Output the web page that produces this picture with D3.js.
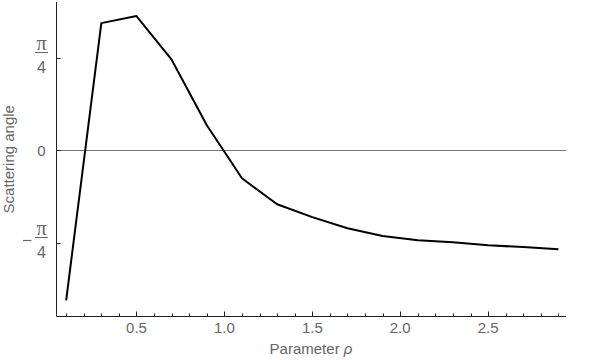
<!DOCTYPE html>
<head>
<meta charset='utf-8'>
<style>
  body { margin: 0; background: #fff; font-family: 'Liberation Sans', Arial, sans-serif; }
  .tick-label { fill: #666; font-size: 15px; }
  .axis-title { fill: #666; font-size: 15px; }
</style>
</head>
<body>
<div id='vis'></div>
<script src='https://d3js.org/d3.v7.min.js'></script>
<script>
  // rho values and scattering angles (radians)
  const rho = [0.1, 0.3, 0.5, 0.7, 0.9, 1.1, 1.3, 1.5, 1.7, 1.9, 2.1, 2.3, 2.5, 2.7, 2.9]
  const angle = [-1.273, 1.078, 1.138, 0.768, 0.212, -0.238, -0.458, -0.567, -0.662, -0.727, -0.764, -0.781, -0.806, -0.821, -0.840]

  const xTicks = [0.5, 1.0, 1.5, 2.0, 2.5]
  const yTicks = [Math.PI / 4, 0, -Math.PI / 4]
  const yTickLabels = ['π/4', '0', '-π/4']

  const width = 600, height = 360
  const mLeft = 56.5, mRight = 566, mTop = 2, mBottom = 316.5

  const x = d3.scaleLinear().domain([0.045, 2.943]).range([mLeft, mRight])
  const y = d3.scaleLinear().domain([-1.41, 1.257]).range([mBottom, mTop])

  const svg = d3.select('#vis').append('svg')
    .attr('width', width).attr('height', height)

  // zero line
  svg.append('line')
    .attr('x1', mLeft).attr('x2', mRight)
    .attr('y1', Math.round(y(0)) + 0.5).attr('y2', Math.round(y(0)) + 0.5)
    .attr('stroke', '#777').attr('stroke-width', 1)

  // axes lines
  svg.append('line')
    .attr('x1', mLeft).attr('x2', mLeft).attr('y1', mTop).attr('y2', mBottom)
    .attr('stroke', '#222')
  svg.append('line')
    .attr('x1', mLeft).attr('x2', mRight).attr('y1', mBottom).attr('y2', mBottom)
    .attr('stroke', '#222')

  // x ticks (major + minor, pointing inward)
  const minor = d3.range(1, 30).map(i => i / 10)
  svg.append('g').selectAll('line')
    .data(minor)
    .enter().append('line')
    .attr('x1', d => Math.round(x(d)) + 0.5)
    .attr('x2', d => Math.round(x(d)) + 0.5)
    .attr('y1', mBottom)
    .attr('y2', d => xTicks.some(t => Math.abs(t - d) < 1e-9) ? mBottom - 5 : mBottom - 3)
    .attr('stroke', '#222')

  svg.append('g').selectAll('text')
    .data(xTicks)
    .enter().append('text')
    .attr('class', 'tick-label')
    .attr('x', d => x(d))
    .attr('y', mBottom + 16)
    .attr('text-anchor', 'middle')
    .text(d => d.toFixed(1))

  // y ticks
  svg.append('g').selectAll('line')
    .data(yTicks)
    .enter().append('line')
    .attr('x1', mLeft).attr('x2', mLeft + 4)
    .attr('y1', d => Math.round(y(d)) + 0.5)
    .attr('y2', d => Math.round(y(d)) + 0.5)
    .attr('stroke', '#222')

  const yl = svg.append('g').selectAll('g')
    .data(yTicks)
    .enter().append('g')
    .attr('transform', d => `translate(41.5, ${Math.round(y(d))})`)

  yl.each(function(d, i) {
    const g = d3.select(this)
    const lab = yTickLabels[i]
    if (lab === '0') {
      g.append('text').attr('class', 'tick-label')
        .attr('x', 0).attr('y', 5.5).attr('text-anchor', 'middle').text('0')
      return
    }
    g.append('text').attr('class', 'tick-label')
      .attr('x', 0).attr('y', -8.5).attr('text-anchor', 'middle')
      .style('font-family', "'Liberation Serif', serif").style('font-size', '20px')
      .text('π')
    g.append('line').attr('x1', -6.5).attr('x2', 6.5).attr('y1', -5.5).attr('y2', -5.5)
      .attr('stroke', '#666').attr('stroke-width', 1)
    g.append('text').attr('class', 'tick-label')
      .attr('x', 0).attr('y', 15).attr('text-anchor', 'middle')
      .style('font-size', '16px').text('4')
    if (lab[0] === '-') {
      g.append('line').attr('x1', -18.5).attr('x2', -10)
        .attr('y1', -2.5).attr('y2', -2.5)
        .attr('stroke', '#666').attr('stroke-width', 1.2)
    }
  })

  // titles
  const xt = svg.append('text')
    .attr('class', 'axis-title')
    .attr('x', 311).attr('y', 354)
    .attr('text-anchor', 'middle')
  xt.append('tspan').text('Parameter ')
  xt.append('tspan').style('font-style', 'italic').text('ρ')

  svg.append('text')
    .attr('class', 'axis-title')
    .attr('transform', `translate(14, ${(mTop + mBottom) / 2}) rotate(-90)`)
    .attr('text-anchor', 'middle')
    .text('Scattering angle')

  // curve
  const line = d3.line()
    .x((d, i) => x(rho[i]))
    .y(d => y(d))

  svg.append('path')
    .datum(angle)
    .attr('d', line)
    .attr('fill', 'none')
    .attr('stroke', '#000')
    .attr('stroke-width', 2)
    .attr('stroke-linejoin', 'round')
</script>
</body>
